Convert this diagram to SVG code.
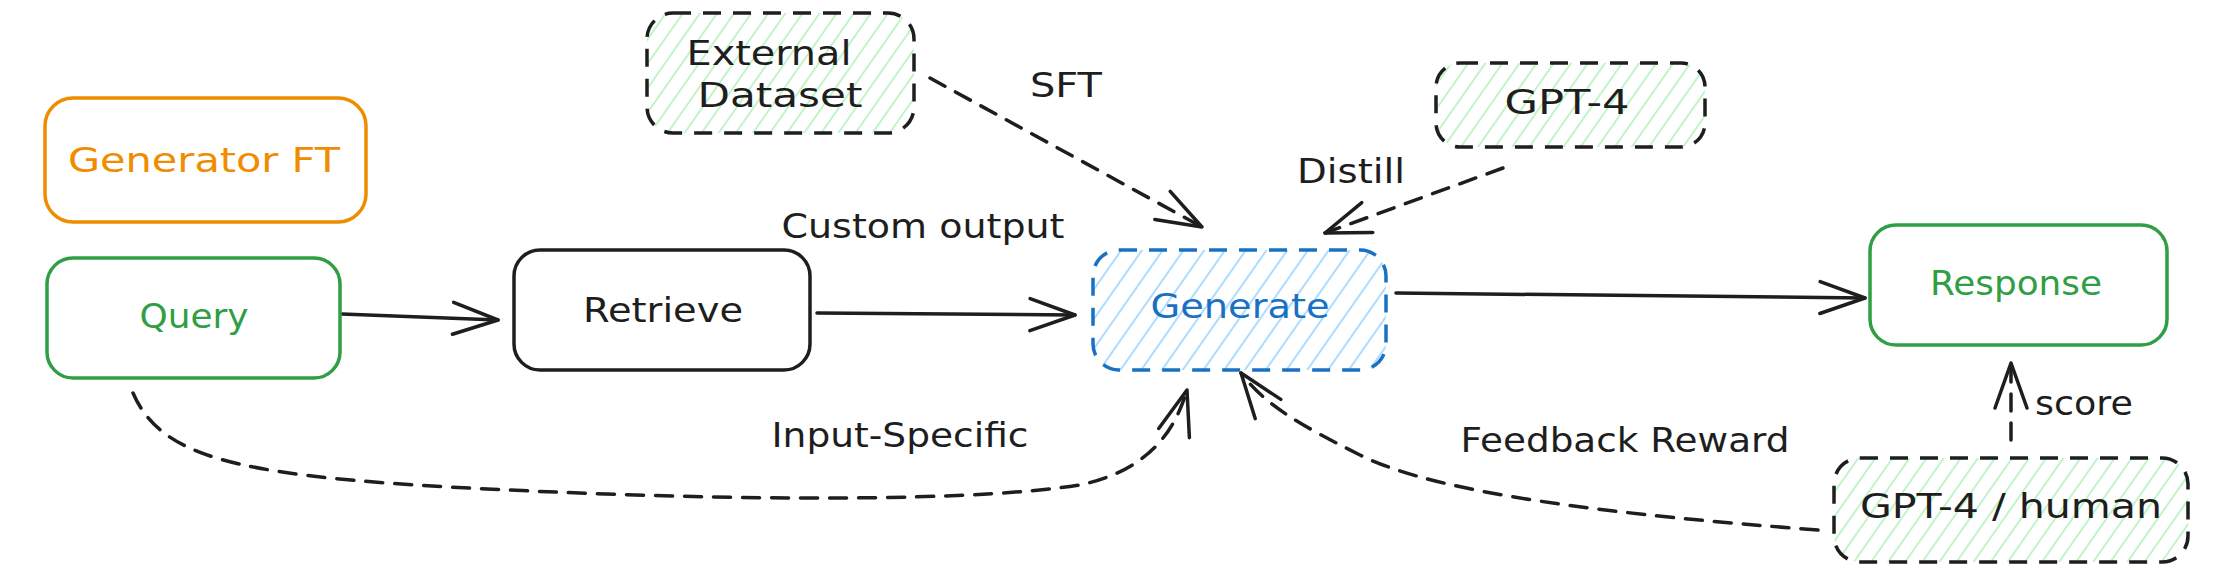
<svg xmlns="http://www.w3.org/2000/svg" width="2215" height="574" viewBox="0 0 2215 574">
<style>
text{font-family:"DejaVu Sans","Liberation Sans",sans-serif;font-size:34px;text-anchor:middle;fill:#1e1e1e}
.box{fill:none;stroke-width:3.5;stroke-linejoin:round}
.dash{stroke:#1e1e1e;stroke-dasharray:18 12;stroke-width:3.5}
.conn{fill:none;stroke:#1e1e1e;stroke-width:3.5;stroke-linecap:round}
.dconn{stroke-dasharray:17 12}
</style>
<defs>
<pattern id="hg" width="14" height="14" patternUnits="userSpaceOnUse" patternTransform="rotate(35)">
<line x1="7" y1="0" x2="7" y2="14" stroke="#b2f2bb" stroke-width="1.6"/>
</pattern>
<pattern id="hb" width="17" height="17" patternUnits="userSpaceOnUse" patternTransform="rotate(35)">
<line x1="8" y1="0" x2="8" y2="17" stroke="#a5d8ff" stroke-width="1.8"/>
</pattern>
<marker id="ah" markerUnits="userSpaceOnUse" viewBox="-50 -25 56 50" refX="0" refY="0" markerWidth="56" markerHeight="50" orient="auto">
<path d="M-45,-16 L0,0 L-45,16" fill="none" stroke="#1e1e1e" stroke-width="3.5" stroke-linecap="round" stroke-linejoin="round"/>
</marker>
</defs>
<rect width="2215" height="574" fill="#ffffff"/>

<g id="connectors">
<path class="conn" d="M342,314 L498,320" marker-end="url(#ah)"/>
<path class="conn" d="M817,313 L1075,315" marker-end="url(#ah)"/>
<path class="conn" d="M1396,293 L1865,298" marker-end="url(#ah)"/>
<path class="conn dconn" d="M930,78 L1202,227" marker-end="url(#ah)"/>
<path class="conn dconn" d="M1503,168 L1325,233" marker-end="url(#ah)"/>
<path class="conn dconn" d="M133,393 C160,455 230,475 450,487 S950,505 1080,485 C1150,470 1175,430 1187,390" marker-end="url(#ah)"/>
<path class="conn dconn" d="M1818,530 C1620,515 1440,495 1360,455 C1300,425 1265,405 1241,373" marker-end="url(#ah)"/>
<path class="conn dconn" d="M2011,440 L2011,363" marker-end="url(#ah)"/>
<text x="1066" y="97" textLength="72" lengthAdjust="spacingAndGlyphs">SFT</text>
<text x="1351" y="183" textLength="108" lengthAdjust="spacingAndGlyphs">Distill</text>
<text x="923" y="238" textLength="283" lengthAdjust="spacingAndGlyphs">Custom output</text>
<text x="900" y="447" textLength="257" lengthAdjust="spacingAndGlyphs">Input-Specific</text>
<text x="1625" y="452" textLength="329" lengthAdjust="spacingAndGlyphs">Feedback Reward</text>
<text x="2084" y="415" textLength="98" lengthAdjust="spacingAndGlyphs">score</text>
</g>

<g id="generator-ft">
<rect class="box" x="45" y="98" width="321" height="124" rx="28" stroke="#f08c00"/>
<text x="204" y="172" textLength="272" lengthAdjust="spacingAndGlyphs" style="fill:#f08c00">Generator FT</text>
</g>

<g id="query">
<rect class="box" x="47" y="258" width="293" height="120" rx="26" stroke="#2f9e44"/>
<text x="194" y="328" textLength="109" lengthAdjust="spacingAndGlyphs" style="fill:#2f9e44">Query</text>
</g>

<g id="retrieve">
<rect class="box" x="514" y="250" width="296" height="120" rx="26" stroke="#1e1e1e"/>
<text x="663" y="322" textLength="160" lengthAdjust="spacingAndGlyphs">Retrieve</text>
</g>

<g id="generate">
<rect x="1093" y="250" width="293" height="120" rx="26" fill="url(#hb)"/>
<rect class="box" x="1093" y="250" width="293" height="120" rx="26" stroke="#1971c2" stroke-dasharray="18 12"/>
<text x="1240" y="318" textLength="179" lengthAdjust="spacingAndGlyphs" style="fill:#1971c2">Generate</text>
</g>

<g id="response">
<rect class="box" x="1870" y="225" width="297" height="120" rx="26" stroke="#2f9e44"/>
<text x="2016" y="295" textLength="172" lengthAdjust="spacingAndGlyphs" style="fill:#2f9e44">Response</text>
</g>

<g id="external-dataset">
<rect x="647" y="13" width="267" height="120" rx="26" fill="url(#hg)"/>
<rect class="box dash" x="647" y="13" width="267" height="120" rx="26"/>
<text x="769" y="65" textLength="165" lengthAdjust="spacingAndGlyphs">External</text>
<text x="780" y="107" textLength="165" lengthAdjust="spacingAndGlyphs">Dataset</text>
</g>

<g id="gpt4">
<rect x="1436" y="63" width="269" height="84" rx="24" fill="url(#hg)"/>
<rect class="box dash" x="1436" y="63" width="269" height="84" rx="24"/>
<text x="1567" y="114" textLength="125" lengthAdjust="spacingAndGlyphs">GPT-4</text>
</g>

<g id="gpt4-human">
<rect x="1834" y="458" width="354" height="104" rx="26" fill="url(#hg)"/>
<rect class="box dash" x="1834" y="458" width="354" height="104" rx="26"/>
<text x="2011" y="518" textLength="302" lengthAdjust="spacingAndGlyphs">GPT-4 / human</text>
</g>
</svg>
